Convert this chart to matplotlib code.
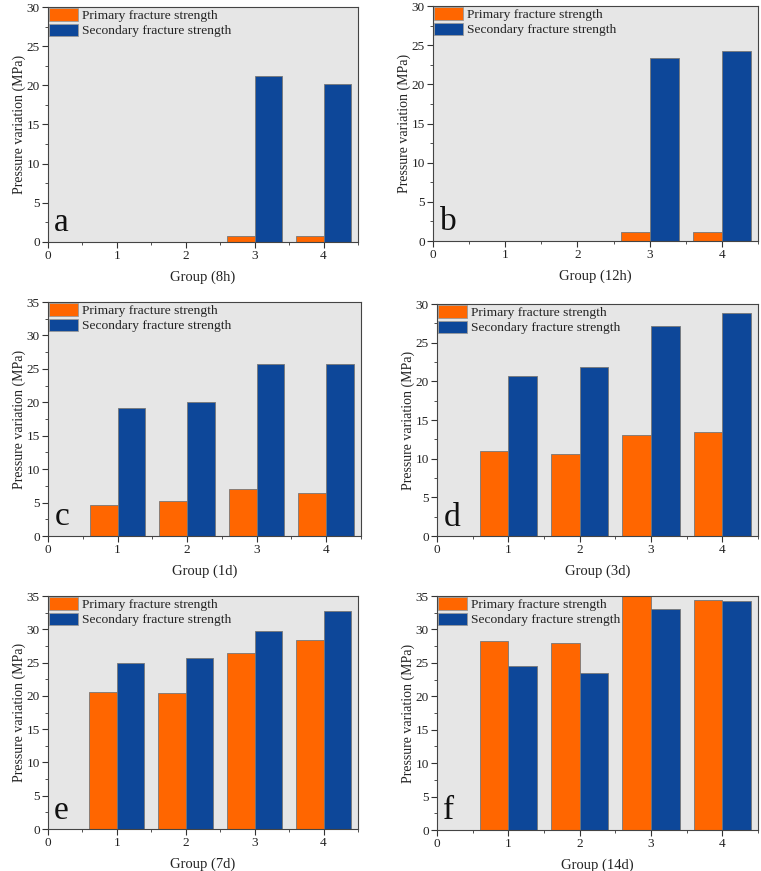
import matplotlib
matplotlib.use("Agg")
import matplotlib.pyplot as plt
import numpy as np
from matplotlib.ticker import MultipleLocator

plt.rcParams['font.family'] = ['Liberation Serif', 'DejaVu Serif']

groups = [1, 2, 3, 4]
labels_x = ["Group (8h)", "Group (12h)", "Group (1d)", "Group (3d)", "Group (7d)", "Group (14d)"]
letters = ["a", "b", "c", "d", "e", "f"]
ylims = [30, 30, 35, 30, 35, 35]

primary_8h = [0, 0, 0.8, 0.8]
secondary_8h = [0, 0, 21.2, 20.2]
primary_12h = [0, 0, 1.1, 1.2]
secondary_12h = [0, 0, 23.3, 24.2]
primary_1d = [4.6, 5.2, 7.0, 6.4]
secondary_1d = [19.2, 20.0, 25.7, 25.8]
primary_3d = [11.0, 10.6, 13.1, 13.5]
secondary_3d = [20.7, 21.9, 27.2, 28.9]
primary_7d = [20.6, 20.5, 26.4, 28.4]
secondary_7d = [25.0, 25.7, 29.7, 32.7]
primary_14d = [28.2, 28.0, 35.2, 34.4]
secondary_14d = [24.5, 23.5, 33.0, 34.3]

primaries = [primary_8h, primary_12h, primary_1d, primary_3d, primary_7d, primary_14d]
secondaries = [secondary_8h, secondary_12h, secondary_1d, secondary_3d, secondary_7d, secondary_14d]

W, H = 761, 871
fig = plt.figure(figsize=(W/100, H/100), dpi=100)

# axes boxes in pixels: left, top, right, bottom
boxes = [
    (48, 7, 358, 242),
    (433, 6, 758, 241),
    (48, 302, 361, 536),
    (437, 304, 758, 536),
    (48, 596, 358, 829),
    (437, 596, 758, 830),
]

orange = "#ff6600"
blue = "#0d4799"
bw = 0.4

for i, (l, t, r, b) in enumerate(boxes):
    ax = fig.add_axes([l/W, 1 - b/H, (r-l)/W, (b-t)/H])
    ax.set_facecolor("#e6e6e6")
    x = np.array(groups)
    ax.bar(x - bw/2, primaries[i], width=bw, color=orange, edgecolor="#777777", linewidth=0.6,
           label="Primary fracture strength")
    ax.bar(x + bw/2, secondaries[i], width=bw, color=blue, edgecolor="#777777", linewidth=0.6,
           label="Secondary fracture strength")
    ax.set_xlim(0, 4.5)
    ax.set_ylim(0, ylims[i])
    ax.xaxis.set_major_locator(MultipleLocator(1))
    ax.xaxis.set_minor_locator(MultipleLocator(0.5))
    ax.yaxis.set_major_locator(MultipleLocator(5))
    ax.yaxis.set_minor_locator(MultipleLocator(2.5))
    ax.tick_params(axis='both', which='major', labelsize=9.5, length=4, width=0.8,
                   color="#333333", labelcolor="#222222", pad=2)
    ax.tick_params(axis='both', which='minor', length=2, width=0.6, color="#333333")
    for s in ax.spines.values():
        s.set_color("#444444")
        s.set_linewidth(0.8)
    ax.set_xlabel(labels_x[i], fontsize=10.5, labelpad=6, color="#222222")
    ax.set_ylabel("Pressure variation (MPa)", fontsize=10, labelpad=0, color="#222222")
    leg = ax.legend(loc="upper left", frameon=False, fontsize=9.7, borderaxespad=0.0,
                    borderpad=0.1, handlelength=2.1, handleheight=1.05, handletextpad=0.35,
                    labelspacing=0.1)
    for txt in leg.get_texts():
        txt.set_color("#222222")
    for h in leg.legend_handles:
        h.set_edgecolor("#999999")
    ax.text(0.02, 0.045, letters[i], transform=ax.transAxes, fontsize=24, ha="left",
            va="baseline", color="#111111")

fig.savefig("out.png", dpi=100)
